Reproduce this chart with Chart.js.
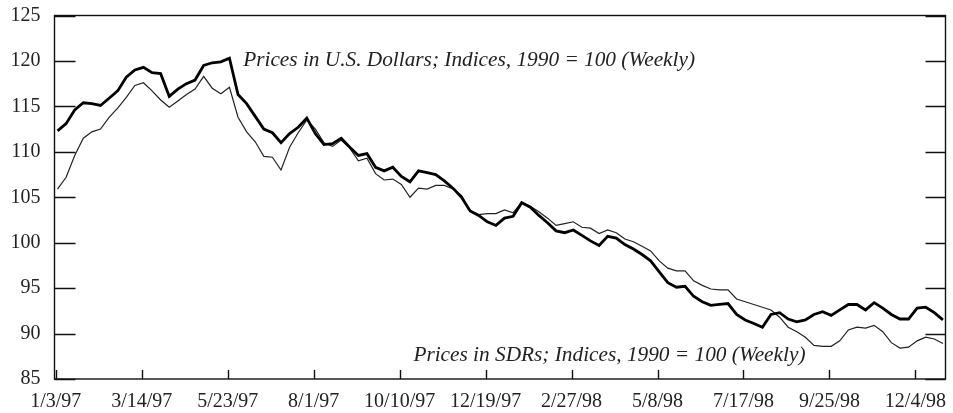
<!DOCTYPE html>
<html><head><meta charset="utf-8">
<script src="https://cdn.jsdelivr.net/npm/chart.js@4/dist/chart.umd.min.js"></script>
<style>html,body{margin:0;padding:0;background:#fff}#wrap{width:953px;height:413px;position:relative}</style>
</head><body><div id="wrap"><canvas id="c" width="953" height="413"></canvas></div>
<script>
const tickLabels = ["1/3/97","3/14/97","5/23/97","8/1/97","10/10/97","12/19/97","2/27/98","5/8/98","7/17/98","9/25/98","12/4/98"];
const yTickValues = [85,90,95,100,105,110,115,120,125];
const usdPrices = [
112.3,113.1,114.6,115.4,115.3,115.1,115.9,116.7,118.2,119.0,
119.3,118.7,118.6,116.1,116.9,117.5,117.9,119.5,119.8,119.9,
120.3,116.3,115.3,113.9,112.5,112.1,111.0,112.0,112.7,113.7,
112.0,110.8,110.9,111.5,110.5,109.6,109.8,108.3,107.9,108.3,
107.3,106.7,107.9,107.7,107.5,106.8,106.0,105.0,103.5,103.0,
102.3,101.9,102.7,102.9,104.4,103.9,103.0,102.2,101.3,101.1,
101.4,100.8,100.2,99.7,100.7,100.5,99.8,99.3,98.7,98.0,
96.8,95.6,95.1,95.2,94.1,93.5,93.1,93.2,93.3,92.1,
91.5,91.1,90.7,92.1,92.3,91.6,91.3,91.5,92.1,92.4,
92.0,92.6,93.2,93.2,92.6,93.4,92.8,92.1,91.6,91.6,
92.8,92.9,92.3,91.5];
const sdrPrices = [
105.9,107.2,109.6,111.5,112.2,112.5,113.8,114.8,116.0,117.3,
117.6,116.7,115.7,114.9,115.6,116.3,116.9,118.3,117.0,116.4,
117.1,113.8,112.2,111.1,109.5,109.4,108.0,110.5,112.1,113.5,
112.5,111.0,110.6,111.3,110.4,109.0,109.3,107.6,106.9,107.0,
106.4,105.0,106.0,105.9,106.3,106.3,105.9,105.2,103.5,103.1,
103.2,103.2,103.6,103.3,104.4,104.0,103.4,102.7,101.9,102.1,
102.3,101.7,101.6,101.0,101.4,101.1,100.4,100.1,99.6,99.1,
98.0,97.2,96.9,96.9,95.8,95.3,94.9,94.8,94.8,93.8,
93.5,93.2,92.9,92.6,91.8,90.7,90.2,89.6,88.7,88.6,
88.6,89.2,90.4,90.7,90.6,90.9,90.2,89.0,88.4,88.5,
89.2,89.6,89.4,88.9];
const usdLabel = "Prices in U.S. Dollars; Indices, 1990 = 100 (Weekly)";
const sdrLabel = "Prices in SDRs; Indices, 1990 = 100 (Weekly)";

const FONT = "'Liberation Serif', 'Times New Roman', serif";

const framePlugin = {
  id: 'frame',
  afterDraw(chart) {
    const {ctx, chartArea: a, scales: {x, y}} = chart;
    ctx.save();
    ctx.strokeStyle = '#111';
    ctx.lineWidth = 1.4;
    ctx.strokeRect(a.left, a.top, a.right - a.left, a.bottom - a.top);
    ctx.beginPath();
    yTickValues.forEach(v => {
      const py = Math.round(y.getPixelForValue(v)) + 0.5;
      ctx.moveTo(a.left, py); ctx.lineTo(a.left + 21, py);
      ctx.moveTo(a.right - 20, py); ctx.lineTo(a.right, py);
    });
    x.ticks.forEach(t => {
      const px = Math.round(x.getPixelForValue(t.value)) + 0.5;
      ctx.moveTo(px, a.bottom); ctx.lineTo(px, a.bottom - 9);
    });
    ctx.stroke();
    ctx.fillStyle = '#222';
    ctx.font = "italic 21.3px " + FONT;
    ctx.textBaseline = 'alphabetic';
    ctx.textAlign = 'left';
    ctx.fillText(usdLabel, x.getPixelForValue(21.6), y.getPixelForValue(119.4));
    ctx.fillText(sdrLabel, x.getPixelForValue(41.4), y.getPixelForValue(86.95));
    ctx.restore();
  }
};

new Chart(document.getElementById('c'), {
  type: 'line',
  data: {
    datasets: [
      { label: 'USD', data: usdPrices.map((v, i) => ({x: i, y: v})), borderColor: '#000', borderWidth: 2.8, pointRadius: 0, tension: 0, fill: false },
      { label: 'SDR', data: sdrPrices.map((v, i) => ({x: i, y: v})), borderColor: '#222', borderWidth: 1.2, pointRadius: 0, tension: 0, fill: false }
    ]
  },
  options: {
    responsive: false,
    devicePixelRatio: 1,
    animation: false,
    layout: { padding: { top: 15.5, right: 7.5, left: 0, bottom: 0 } },
    plugins: { legend: { display: false }, tooltip: { enabled: false } },
    scales: {
      x: {
        type: 'linear', min: -0.35, max: 103.3,
        grid: { display: false, drawTicks: false },
        border: { display: false },
        afterBuildTicks: s => { s.ticks = tickLabels.map((_, k) => ({ value: 10 * k - 0.2 })); },
        afterFit: s => { s.height = 34; s.paddingLeft = 0; s.paddingRight = 0; },
        ticks: { autoSkip: false, maxRotation: 0, padding: 11, color: '#222', font: { family: FONT, size: 20 },
          callback: (v, i) => tickLabels[i] }
      },
      y: {
        min: 85, max: 125,
        grid: { display: false, drawTicks: false },
        border: { display: false },
        afterBuildTicks: s => { s.ticks = yTickValues.map(v => ({ value: v })); },
        afterFit: s => { s.width = 54.5; s.paddingTop = 0; s.paddingBottom = 0; },
        ticks: { padding: 14, color: '#222', font: { family: FONT, size: 20 } }
      }
    }
  },
  plugins: [framePlugin]
});
</script>
</body></html>
